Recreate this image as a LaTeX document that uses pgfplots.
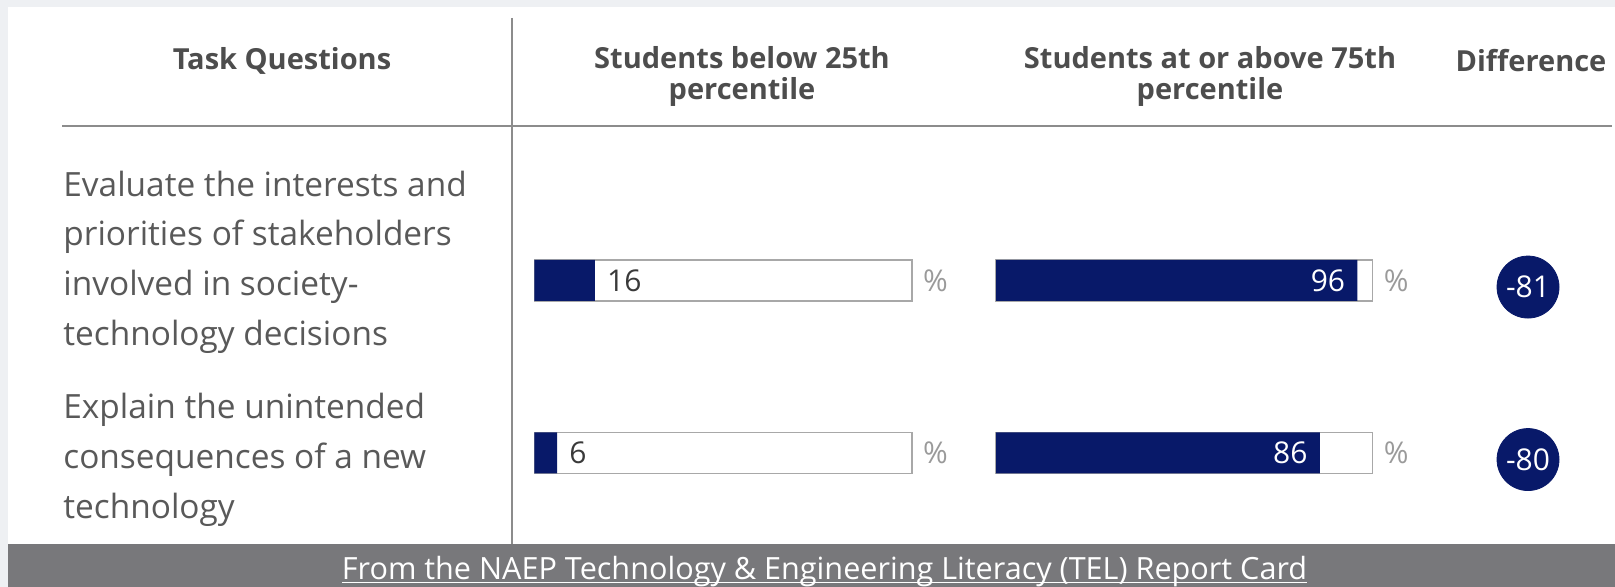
\documentclass[border=0pt]{standalone}
\usepackage{fontspec}
\setmainfont{Open Sans}
\usepackage{pgfplots}
\usepackage{pgfplotstable}
\pgfplotsset{compat=1.18, /pgf/number format/assume math mode=true}
\definecolor{bgGray}{HTML}{EEF0F3}
\definecolor{bannerGray}{HTML}{78787B}
\definecolor{lineGray}{HTML}{8C8C8C}
\definecolor{outlineGray}{HTML}{A8A8A8}
\definecolor{navy}{RGB}{8,25,105}
\definecolor{headGray}{HTML}{4D4D4D}
\definecolor{labGray}{HTML}{595959}
\definecolor{numGray}{HTML}{3A3A3A}
\definecolor{pctGray}{HTML}{9A9A9A}
\newsavebox\ubox
\newcommand\uline[1]{\sbox\ubox{#1}\rlap{\rule[-2.2pt]{\wd\ubox}{0.9pt}}\usebox\ubox}
\pgfplotstableread{
row below above
0 16 96
1 6 86
}\data
\begin{document}
\begin{tikzpicture}
% frame axis in pixel units
\begin{axis}[at={(0,0)}, anchor=south west, scale only axis, width=807.5pt, height=293.5pt,
  xmin=0, xmax=1615, ymin=0, ymax=587, y dir=reverse, hide axis, clip=false]
\fill[bgGray] (axis cs:0,0) rectangle (axis cs:1615,587);
\fill[white] (axis cs:8,7) rectangle (axis cs:1615,544);
\fill[bannerGray] (axis cs:8,544) rectangle (axis cs:1615,587);
\draw[lineGray, line width=1pt] (axis cs:512,18) -- (axis cs:512,544);
\draw[lineGray, line width=1pt] (axis cs:62,126) -- (axis cs:1612,126);
% headers
\tikzset{hd/.style={text=headGray, font=\fontsize{14.5}{17}\selectfont\bfseries, inner sep=0pt}}
\node[hd] at (axis cs:282,61) {Task Questions};
\node[hd] at (axis cs:742,58) {Students below 25th};
\node[hd] at (axis cs:742,92) {percentile};
\node[hd] at (axis cs:1210,58) {Students at or above 75th};
\node[hd] at (axis cs:1210,92) {percentile};
\node[hd] at (axis cs:1531,61) {Difference};
% row labels
\tikzset{rl/.style={text=labGray, font=\fontsize{16.7}{20}\selectfont, inner sep=0pt, anchor=base west}}
\node[rl] at (axis cs:63,197) {Evaluate the interests and};
\node[rl] at (axis cs:63,246) {priorities of stakeholders};
\node[rl] at (axis cs:63,296) {involved in society-};
\node[rl] at (axis cs:63,345) {technology decisions};
\node[rl] at (axis cs:63,418) {Explain the unintended};
\node[rl] at (axis cs:63,468) {consequences of a new};
\node[rl] at (axis cs:63,518) {technology};
% banner
\node[text=white, font=\fontsize{15.3}{17}\selectfont, inner sep=0pt, anchor=base] at (axis cs:824.5,579) {\uline{From the NAEP Technology \& Engineering Literacy (TEL) Report Card}};
\end{axis}
% left bars
\begin{axis}[at={(267.2pt,23.875pt)}, anchor=south west, scale only axis, width=188.7pt, height=172.5pt,
  xmin=0, xmax=100, ymin=-0.5, ymax=1.5, y dir=reverse, hide axis, clip=false]
\addplot[xbar, bar shift=0pt, bar width=20.5pt, fill=white, draw=outlineGray, line width=0.8pt] coordinates {(100,0) (100,1)};
\addplot[xbar, bar shift=0pt, bar width=20.5pt, fill=navy, draw=none,
  nodes near coords, nodes near coords style={anchor=west, inner sep=0pt, xshift=6pt, text=numGray, font=\fontsize{15}{17}\selectfont}]
  table[x=below, y=row] {\data};
\node[anchor=west, inner sep=0pt, text=pctGray, font=\fontsize{15}{17}\selectfont] at (axis cs:100,0) [xshift=5.5pt] {\%};
\node[anchor=west, inner sep=0pt, text=pctGray, font=\fontsize{15}{17}\selectfont] at (axis cs:100,1) [xshift=5.5pt] {\%};
\end{axis}
% right bars
\begin{axis}[at={(498pt,23.875pt)}, anchor=south west, scale only axis, width=188.25pt, height=172.5pt,
  xmin=0, xmax=100, ymin=-0.5, ymax=1.5, y dir=reverse, hide axis, clip=false]
\addplot[xbar, bar shift=0pt, bar width=20.5pt, fill=white, draw=outlineGray, line width=0.8pt] coordinates {(100,0) (100,1)};
\addplot[xbar, bar shift=0pt, bar width=20.5pt, fill=navy, draw=none,
  nodes near coords, nodes near coords style={anchor=east, inner sep=0pt, xshift=-6pt, text=white, font=\fontsize{15}{17}\selectfont}]
  table[x=above, y=row] {\data};
\node[anchor=west, inner sep=0pt, text=pctGray, font=\fontsize{15}{17}\selectfont] at (axis cs:100,0) [xshift=5.5pt] {\%};
\node[anchor=west, inner sep=0pt, text=pctGray, font=\fontsize{15}{17}\selectfont] at (axis cs:100,1) [xshift=5.5pt] {\%};
\end{axis}
% difference circles
\begin{axis}[at={(754pt,20.6pt)}, anchor=south west, scale only axis, width=20pt, height=172.5pt,
  xmin=-1, xmax=1, ymin=-0.5, ymax=1.5, y dir=reverse, hide axis, clip=false]
\addplot[only marks, mark=*, mark size=15.5pt, color=navy,
  nodes near coords, point meta=explicit symbolic,
  nodes near coords style={anchor=center, inner sep=0pt, text=white, font=\fontsize{15}{17}\selectfont}]
  coordinates {(0,0) [-81] (0,1) [-80]};
\end{axis}
\end{tikzpicture}
\end{document}
